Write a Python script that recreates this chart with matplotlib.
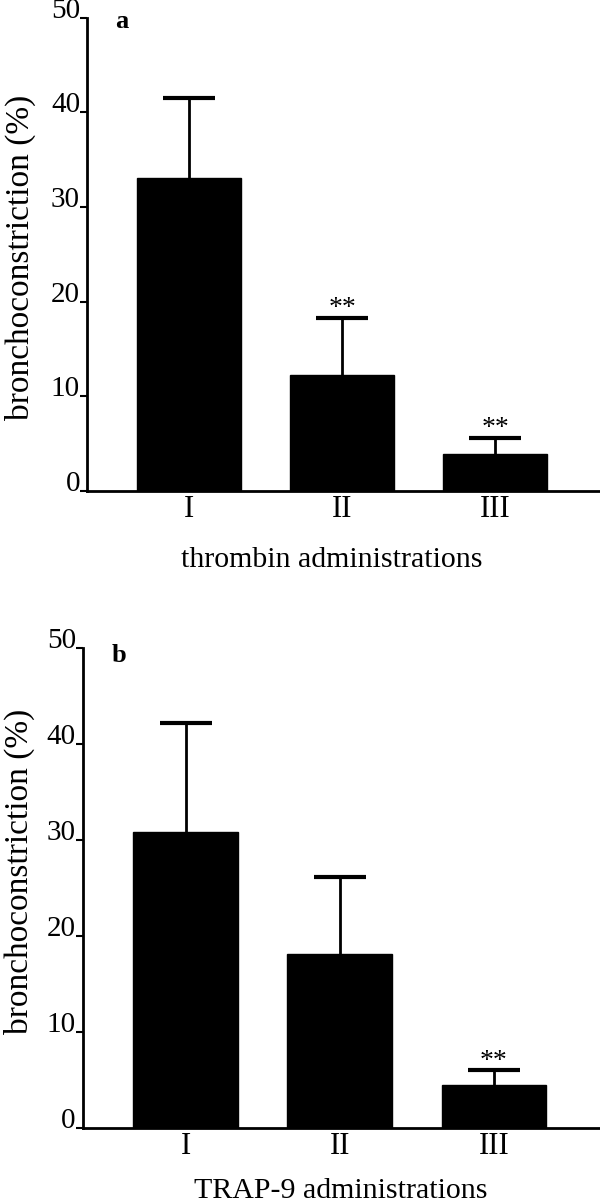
import matplotlib
matplotlib.use('Agg')
import matplotlib.pyplot as plt

plt.rcParams['font.family'] = ['Liberation Serif', 'DejaVu Serif']

# data
groups = ['I', 'II', 'III']

thrombin_mean = [33.1, 12.3, 3.9]
thrombin_err = [8.4, 6.0, 1.7]
thrombin_sig = ['', '**', '**']

trap_mean = [30.8, 18.1, 4.5]
trap_err = [11.4, 8.0, 1.5]
trap_sig = ['', '', '**']

yticks = [0, 10, 20, 30, 40, 50]


def draw_panel(ax, means, errs, sigs):
	x = list(range(len(groups)))
	ax.bar(x, means, width=0.68, color='black', edgecolor='black', zorder=2)
	eb = ax.errorbar(x, means, yerr=[[0] * len(errs), errs], fmt='none',
					 ecolor='black', elinewidth=2, capsize=19, capthick=3, zorder=3)
	# drop the cap that sits on top of the bar
	eb[1][0].remove()

	for xi, m, e, s in zip(x, means, errs, sigs):
		if s:
			ax.annotate(s, (xi, m + e), xytext=(0, 2), textcoords='offset points',
						ha='center', va='baseline', fontsize=20)

	ax.set_ylim(0, 50)
	ax.set_yticks(yticks)
	ax.set_xticks(x)
	ax.set_xticklabels(groups, fontsize=22)

	for lab in ax.get_yticklabels():
		lab.set_va('baseline')
		lab.set_fontsize(21)

	ax.tick_params(axis='y', direction='out', length=5, width=1.5, pad=0)
	ax.tick_params(axis='x', length=0, pad=3)

	ax.spines['top'].set_visible(False)
	ax.spines['right'].set_visible(False)
	ax.spines['left'].set_linewidth(2)
	ax.spines['bottom'].set_linewidth(2)

	ax.set_ylabel('bronchoconstriction (%)', fontsize=24)


fig = plt.figure(figsize=(6, 12.04), dpi=100)

# panel a
ax_a = fig.add_axes([0.145, 0.5922, 0.855, 0.393])
ax_a.set_xlim(-0.667, 2.686)
draw_panel(ax_a, thrombin_mean, thrombin_err, thrombin_sig)
ax_a.yaxis.set_label_coords(-0.1, 0.493)
ax_a.set_xlabel('thrombin administrations', fontsize=21.5)
ax_a.xaxis.set_label_coords(0.478, -0.118)
ax_a.text(-0.484, 49.6, 'a', fontsize=19, fontweight='bold', va='center', ha='left')

# panel b
ax_b = fig.add_axes([0.138, 0.0631, 0.86, 0.3987])
ax_b.set_xlim(-0.666, 2.68)
draw_panel(ax_b, trap_mean, trap_err, trap_sig)
ax_b.yaxis.set_label_coords(-0.092, 0.535)
ax_b.set_xlabel('TRAP-9 administrations', fontsize=21.5)
ax_b.xaxis.set_label_coords(0.499, -0.104)
ax_b.text(-0.478, 49.2, 'b', fontsize=19, fontweight='bold', va='center', ha='left')

fig.savefig('out.png', dpi=100)
